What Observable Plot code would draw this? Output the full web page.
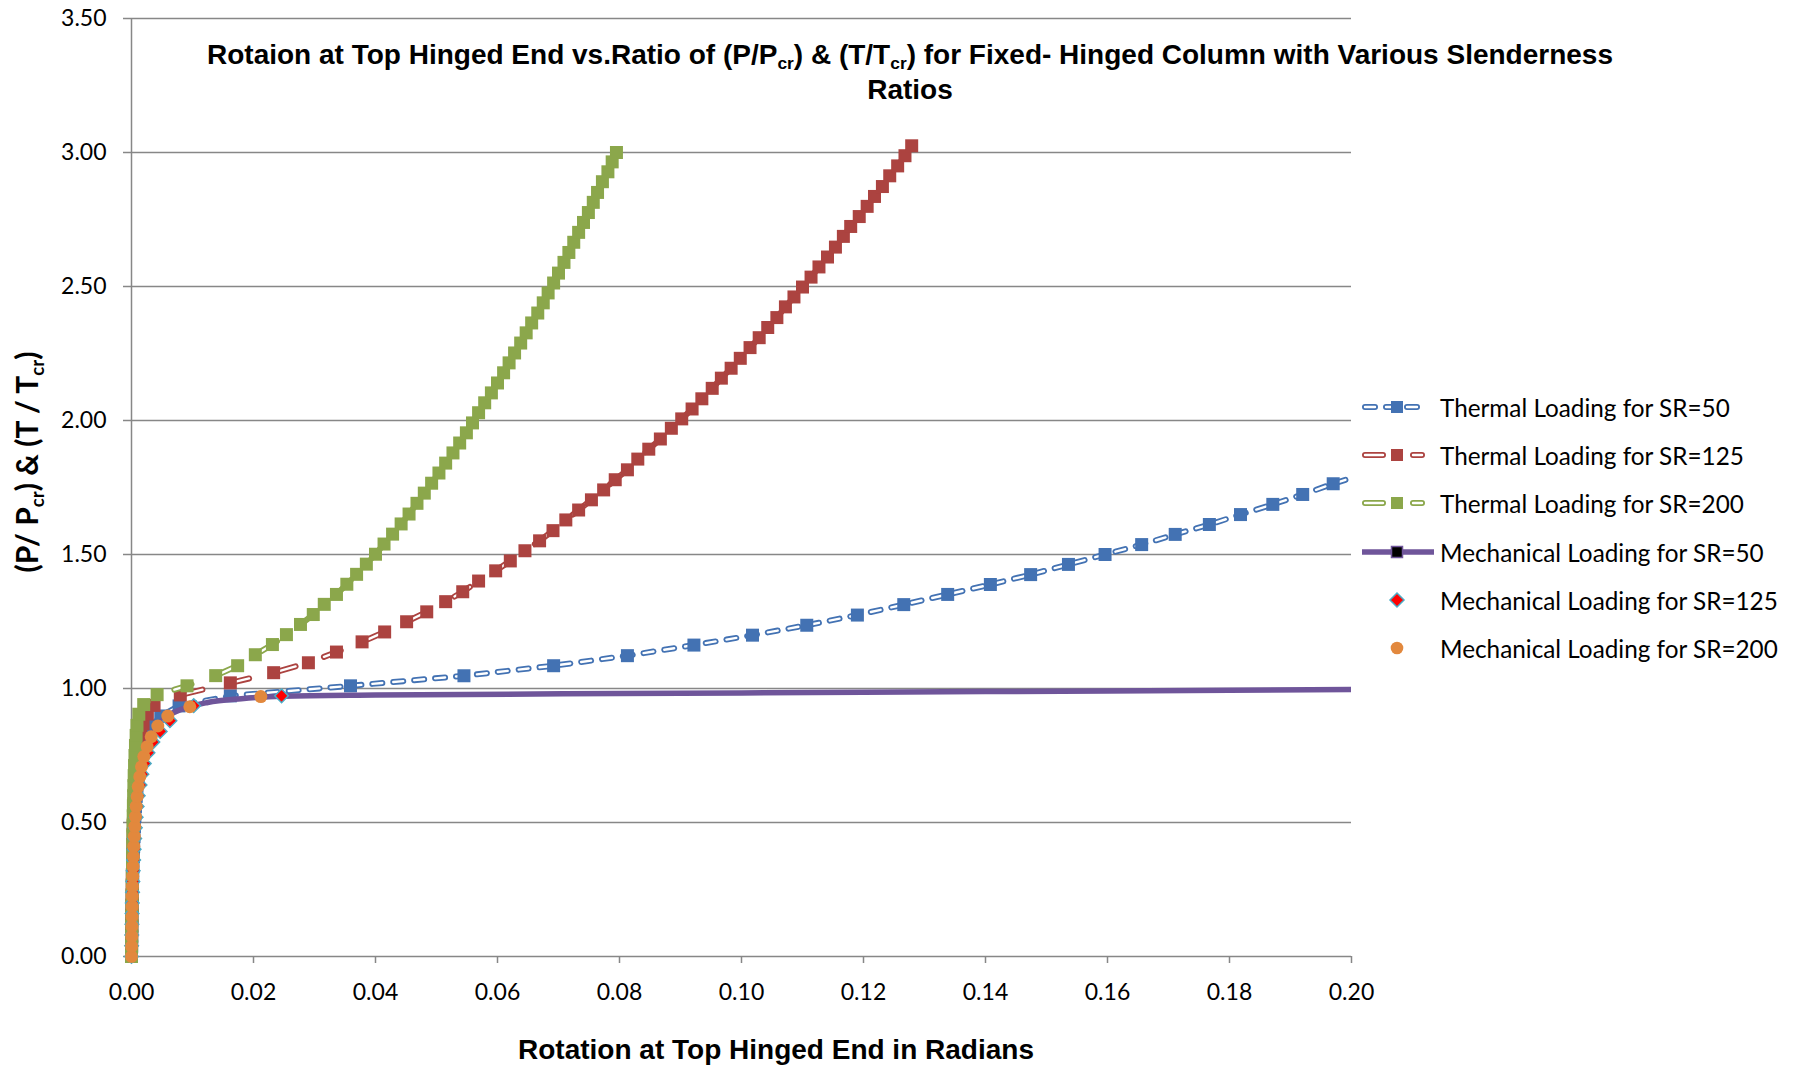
<!DOCTYPE html>
<html><head><meta charset="utf-8">
<script src="https://cdn.jsdelivr.net/npm/d3@7"></script>
<script src="https://cdn.jsdelivr.net/npm/@observablehq/plot@0.6"></script>
<style>
body{margin:0;background:#fff;}
#wrap{position:relative;width:1803px;height:1068px;overflow:hidden;background:#fff;}
#title{position:absolute;left:910px;top:39px;transform:translateX(-50%);font-family:"Liberation Sans",Arial,sans-serif;font-weight:bold;font-size:28px;line-height:32px;text-align:center;white-space:nowrap;color:#000;}
#xtitle{position:absolute;left:776px;top:1050px;transform:translate(-50%,-50%);font-family:"Liberation Sans",Arial,sans-serif;font-weight:bold;font-size:28px;white-space:nowrap;color:#000;}
#ytitle{position:absolute;left:26px;top:462px;transform:translate(-50%,-50%) rotate(-90deg);font-family:Lato,sans-serif;font-weight:bold;font-size:30px;white-space:nowrap;color:#000;}
.sub{font-size:0.62em;position:relative;top:0.3em;}
</style></head>
<body>
<div id="wrap">
<div id="chart"></div>
<div id="title">Rotaion at Top Hinged End vs.Ratio of (P/P<span class="sub">cr</span>) &amp; (T/T<span class="sub">cr</span>) for Fixed- Hinged Column with Various Slenderness<br>Ratios</div>
<div id="xtitle">Rotation at Top Hinged End in Radians</div>
<div id="ytitle">(P/ P<span class="sub">cr</span>) &amp; (T / T<span class="sub">cr</span>)</div>
</div>
<script>
// ---- data (x = rotation in radians, y = P/Pcr or T/Tcr) ----
const xTicks = [0, 0.02, 0.04, 0.06, 0.08, 0.10, 0.12, 0.14, 0.16, 0.18, 0.20];
const yTicks = [0, 0.5, 1.0, 1.5, 2.0, 2.5, 3.0, 3.5];
const seriesNames = ["Thermal Loading for SR=50", "Thermal Loading for SR=125", "Thermal Loading for SR=200",
  "Mechanical Loading for SR=50", "Mechanical Loading for SR=125", "Mechanical Loading for SR=200"];

const thermalSR50 = [[0,0],[0.00002,0.035],[0.00004,0.0725],[0.00006,0.11],[0.00008,0.1475],[0.00011,0.185],[0.00014,0.2225],[0.00017,0.26],[0.00021,0.2975],[0.00025,0.335],[0.0003,0.3725],[0.00035,0.41],[0.00041,0.4475],[0.00048,0.485],[0.00056,0.5225],[0.00066,0.56],[0.00078,0.5975],[0.0009,0.635],[0.0011,0.6725],[0.0013,0.71],[0.0016,0.7475],[0.002,0.785],[0.0025,0.8225],[0.0033,0.86],[0.0048,0.8975],[0.0078,0.935],[0.0162,0.9725],[0.0359,1.010],[0.0545,1.0475],[0.0692,1.085],[0.0813,1.1225],[0.0922,1.162],[0.1018,1.199],[0.1107,1.236],[0.1190,1.274],[0.1266,1.313],[0.1338,1.351],[0.1408,1.388],[0.1474,1.425],[0.1536,1.463],[0.1596,1.500],[0.1656,1.537],[0.1711,1.575],[0.1767,1.612],[0.1818,1.649],[0.1871,1.687],[0.1920,1.724],[0.1970,1.764],[0.2021,1.801]];

const thermalSR125 = [[0,0],[0.00001,0.04],[0.00002,0.078],[0.00004,0.116],[0.00005,0.154],[0.00007,0.192],[0.00009,0.23],[0.00011,0.267],[0.00013,0.305],[0.00016,0.343],[0.00019,0.381],[0.00022,0.418],[0.00026,0.456],[0.0003,0.494],[0.00035,0.532],[0.00041,0.57],[0.00048,0.607],[0.00057,0.645],[0.00068,0.683],[0.00082,0.721],[0.001,0.758],[0.0012,0.795],[0.0015,0.831],[0.0019,0.868],[0.0026,0.905],[0.0037,0.937],[0.008,0.976],[0.0162,1.021],[0.0233,1.059],[0.029,1.096],[0.0336,1.136],[0.0378,1.174],[0.0415,1.211],[0.0451,1.249],[0.0484,1.286],[0.0515,1.324],[0.0543,1.361],[0.0569,1.401],[0.0597,1.439],[0.0621,1.476],[0.0645,1.514],[0.0669,1.551],[0.0691,1.589],[0.0712,1.629],[0.0733,1.666],[0.0754,1.704],[0.0774,1.741],[0.0793,1.779],[0.0813,1.816],[0.083,1.856],[0.0848,1.893],[0.0867,1.931],[0.0885,1.971],[0.0902,2.006],[0.0919,2.043],[0.0935,2.081],[0.0952,2.12],[0.0967,2.158],[0.0983,2.195],[0.0998,2.232],[0.1014,2.272],[0.1029,2.309],[0.1043,2.347],[0.1058,2.384],[0.1072,2.424],[0.1086,2.461],[0.11,2.498],[0.1114,2.535],[0.1127,2.573],[0.1141,2.61],[0.1154,2.647],[0.1167,2.687],[0.1179,2.724],[0.1193,2.761],[0.1206,2.799],[0.1218,2.836],[0.1231,2.873],[0.1243,2.913],[0.1256,2.95],[0.1268,2.988],[0.1279,3.025]];

const thermalSR200 = [[0,0],[0.00002,0.0375],[0.00003,0.075],[0.00005,0.1125],[0.00006,0.15],[0.00008,0.1875],[0.0001,0.225],[0.00012,0.2625],[0.00014,0.3],[0.00016,0.3375],[0.00018,0.375],[0.0002,0.4125],[0.00022,0.45],[0.00025,0.4875],[0.00028,0.525],[0.00031,0.5625],[0.00035,0.6],[0.00039,0.6375],[0.00044,0.675],[0.0005,0.7125],[0.00057,0.75],[0.00065,0.7875],[0.00076,0.825],[0.0009,0.8625],[0.0012,0.904],[0.002,0.94],[0.0042,0.977],[0.0091,1.01],[0.0138,1.048],[0.0174,1.085],[0.0203,1.126],[0.0231,1.164],[0.0254,1.201],[0.0277,1.239],[0.0298,1.276],[0.0316,1.314],[0.0336,1.351],[0.0353,1.389],[0.0369,1.426],[0.0385,1.464],[0.04,1.501],[0.0414,1.539],[0.0428,1.576],[0.0442,1.614],[0.0455,1.651],[0.0468,1.691],[0.048,1.729],[0.0492,1.766],[0.0504,1.804],[0.0515,1.841],[0.0527,1.879],[0.0538,1.916],[0.0549,1.954],[0.0559,1.991],[0.0569,2.029],[0.0579,2.066],[0.059,2.103],[0.06,2.14],[0.061,2.178],[0.0619,2.215],[0.0628,2.252],[0.0638,2.289],[0.0647,2.327],[0.0656,2.364],[0.0666,2.401],[0.0675,2.439],[0.0683,2.476],[0.0692,2.513],[0.07,2.55],[0.0709,2.59],[0.0717,2.627],[0.0725,2.665],[0.0733,2.702],[0.0741,2.739],[0.0749,2.776],[0.0757,2.814],[0.0764,2.851],[0.0772,2.891],[0.0781,2.928],[0.0788,2.965],[0.0795,3.0]];

const mechanicalSR50 = [[0,0],[0.00005,0.1],[0.0001,0.2],[0.0002,0.3],[0.00035,0.4],[0.0006,0.5],[0.0009,0.58],[0.0013,0.66],[0.0019,0.74],[0.0028,0.8],[0.004,0.855],[0.0058,0.895],[0.0085,0.925],[0.0125,0.948],[0.018,0.962],[0.0246,0.9715],[0.04,0.976],[0.08,0.981],[0.12,0.986],[0.16,0.991],[0.2,0.996]];

const mechanicalSR125 = [[0,0],[0.00002,0.04],[0.00004,0.08],[0.00007,0.12],[0.0001,0.16],[0.00013,0.2],[0.00017,0.24],[0.00022,0.28],[0.00028,0.32],[0.00035,0.36],[0.00043,0.4],[0.00052,0.44],[0.00063,0.48],[0.00076,0.52],[0.00092,0.56],[0.0011,0.6],[0.0014,0.64],[0.0017,0.68],[0.0021,0.72],[0.0027,0.76],[0.0035,0.8],[0.0047,0.84],[0.0063,0.88],[0.0102,0.936],[0.0246,0.9725]];

const mechanicalSR200 = [[0,0],[0.00002,0.038],[0.00004,0.076],[0.00006,0.113],[0.00008,0.15],[0.00011,0.187],[0.00013,0.225],[0.00016,0.262],[0.0002,0.299],[0.00026,0.336],[0.00032,0.373],[0.00038,0.411],[0.00046,0.448],[0.00054,0.485],[0.00065,0.522],[0.00077,0.56],[0.00093,0.597],[0.0011,0.634],[0.00136,0.671],[0.00164,0.708],[0.00202,0.746],[0.00257,0.783],[0.00323,0.82],[0.00431,0.86],[0.00595,0.897],[0.00956,0.932],[0.0212,0.97]];

// ---- styles ----
const C = {blue:"#4372B3", red:"#AC4340", green:"#8BA74B", purple:"#6F559A", orange:"#E2883D", teal:"#4BACC6", diamond:"#FF0000", grid:"#878787"};
const toRows = a => a.map(([x, y]) => ({x, y}));
const inFrame = d => d.x <= 0.2;

// marker glyphs with fixed pixel size (Excel-like square and diamond)
const squareMarker = {draw(ctx) { ctx.rect(-6.5, -6.5, 13, 13); }};
const diamondMarker = {draw(ctx) { ctx.moveTo(0, -6.8); ctx.lineTo(6.8, 0); ctx.lineTo(0, 6.8); ctx.lineTo(-6.8, 0); ctx.closePath(); }};

function doubleLine(data, color, dash) {
  return [
    Plot.line(data, {x:"x", y:"y", stroke:color, strokeWidth:6, strokeDasharray:dash, strokeLinecap:"round", strokeLinejoin:"round", clip:true}),
    Plot.line(data, {x:"x", y:"y", stroke:"white", strokeWidth:2.4, strokeDasharray:dash, strokeLinecap:"round", strokeLinejoin:"round", clip:true})
  ];
}

const t50 = toRows(thermalSR50), t125 = toRows(thermalSR125), t200 = toRows(thermalSR200);
const m50 = toRows(mechanicalSR50), m125 = toRows(mechanicalSR125), m200 = toRows(mechanicalSR200);

const chart = Plot.plot({
  width: 1803, height: 1068,
  marginLeft: 131, marginRight: 452, marginTop: 18, marginBottom: 112,
  style: {fontFamily: "Lato, sans-serif", fontSize: "23px", color: "#000", background: "white", overflow: "visible"},
  x: {domain: [0, 0.2], ticks: xTicks},
  y: {domain: [0, 3.5], ticks: yTicks},
  marks: [
    Plot.gridY(yTicks, {stroke: C.grid, strokeOpacity: 1, strokeWidth: 1.5}),
    Plot.ruleX([0], {stroke: C.grid, strokeWidth: 1.5}),
    Plot.axisY(yTicks, {tickSize: 8, tickPadding: 17, tickFormat: d3.format(".2f"), stroke: C.grid, strokeWidth: 1.5, fill: "#000", label: null}),
    Plot.axisX(xTicks, {tickSize: 7, tickPadding: 20, tickFormat: d3.format(".2f"), stroke: C.grid, strokeWidth: 1.5, fill: "#000", label: null}),
    ...doubleLine(t50, C.blue, "10,11"),
    Plot.dot(t50.filter(inFrame), {x:"x", y:"y", symbol:squareMarker, r:6, fill:C.blue}),
    ...doubleLine(t125, C.red, "18,30"),
    Plot.dot(t125, {x:"x", y:"y", symbol:squareMarker, r:6, fill:C.red}),
    ...doubleLine(t200, C.green, "18,30"),
    Plot.dot(t200, {x:"x", y:"y", symbol:squareMarker, r:6, fill:C.green}),
    Plot.line(m50, {x:"x", y:"y", stroke:C.purple, strokeWidth:5.5, curve:"monotone-x", clip:true}),
    Plot.dot(m125, {x:"x", y:"y", symbol:diamondMarker, r:5, fill:C.diamond, stroke:C.teal, strokeWidth:1.5}),
    Plot.dot(m200, {x:"x", y:"y", r:6.5, fill:C.orange})
  ]
});
document.getElementById("chart").appendChild(chart);

// ---- legend ----
const ns = "http://www.w3.org/2000/svg";
const leg = document.createElementNS(ns, "svg");
leg.setAttribute("width", 1803); leg.setAttribute("height", 1068);
leg.style.position = "absolute"; leg.style.left = "0"; leg.style.top = "0"; leg.style.pointerEvents = "none";
document.getElementById("wrap").appendChild(leg);
function el(tag, attrs) { const e = document.createElementNS(ns, tag); for (const k in attrs) e.setAttribute(k, attrs[k]); leg.appendChild(e); return e; }
const rowY = [407, 455, 503, 552, 600, 648];
const legendStyle = [
  {type:"thermal", color:C.blue, dash:"10,11"},
  {type:"thermal", color:C.red, dash:"18,30"},
  {type:"thermal", color:C.green, dash:"18,30"},
  {type:"mech50"}, {type:"diamond"}, {type:"circle"}
];
seriesNames.forEach((name, i) => {
  const y = rowY[i], s = legendStyle[i], cx = 1397;
  if (s.type === "thermal") {
    el("line", {x1:1365, x2:1422, y1:y, y2:y, stroke:s.color, "stroke-width":6, "stroke-dasharray":s.dash, "stroke-linecap":"round"});
    el("line", {x1:1365, x2:1422, y1:y, y2:y, stroke:"white", "stroke-width":2.4, "stroke-dasharray":s.dash, "stroke-linecap":"round"});
    el("rect", {x:cx-6, y:y-6, width:12, height:12, fill:s.color});
  } else if (s.type === "mech50") {
    el("line", {x1:1362, x2:1434, y1:y, y2:y, stroke:C.purple, "stroke-width":5.5});
    el("rect", {x:cx-5.5, y:y-5.5, width:11, height:11, fill:"#000", stroke:C.purple, "stroke-width":1.5});
  } else if (s.type === "diamond") {
    el("path", {d:`M${cx},${y-7}L${cx+7},${y}L${cx},${y+7}L${cx-7},${y}Z`, fill:C.diamond, stroke:C.teal, "stroke-width":1.5});
  } else {
    el("circle", {cx:cx, cy:y, r:6.3, fill:C.orange});
  }
  const t = el("text", {x:1440, y:y, "dominant-baseline":"central", "font-family":"Lato, sans-serif", "font-size":"24.3px", fill:"#000"});
  t.textContent = name;
});
</script>
</body></html>
